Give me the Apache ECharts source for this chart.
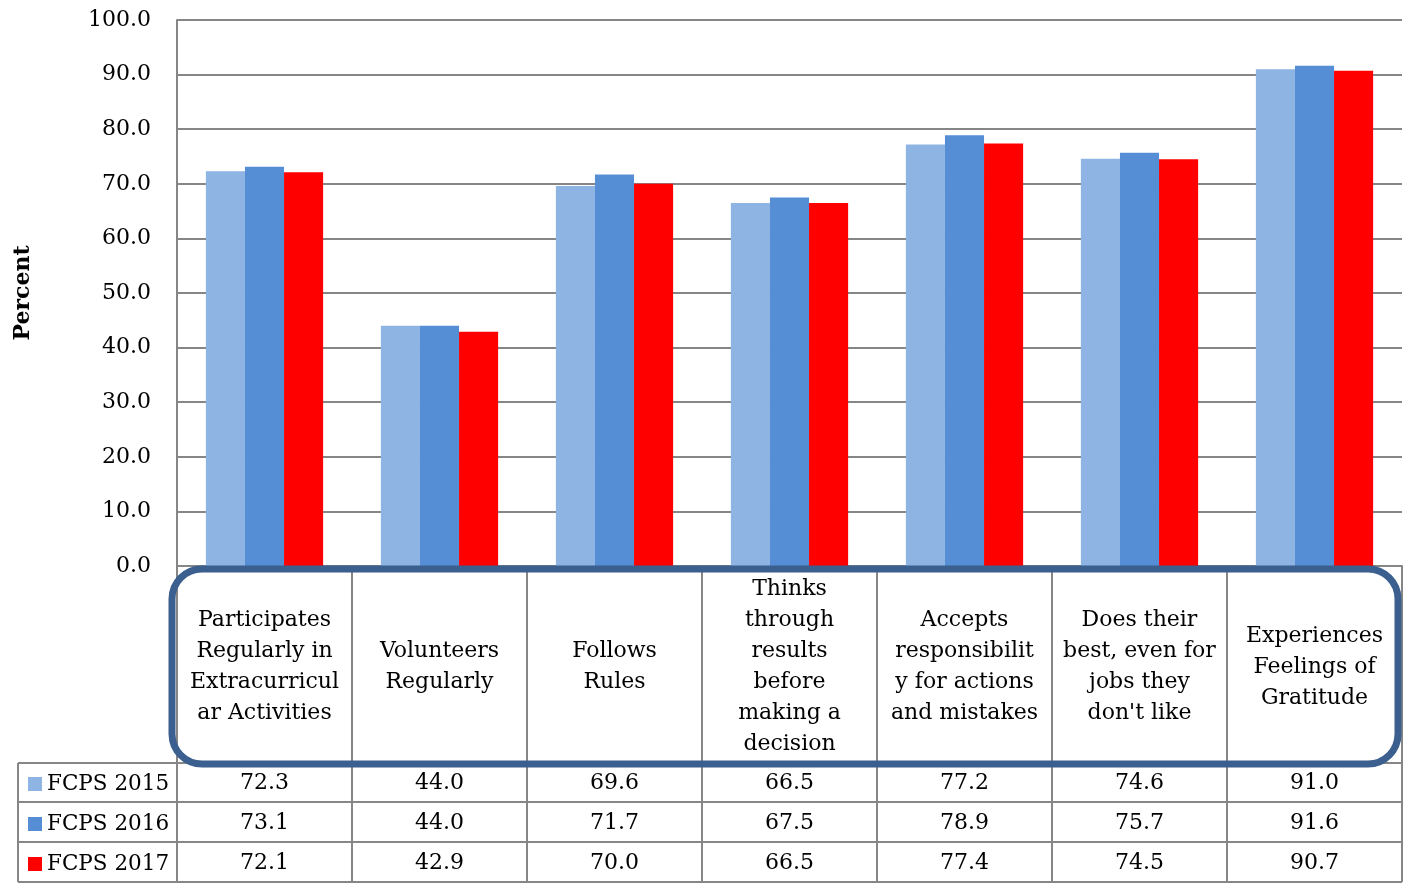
<!DOCTYPE html>
<html><head><meta charset="utf-8">
<script src="https://cdn.jsdelivr.net/npm/echarts@6/dist/echarts.min.js"></script>
<style>html,body{margin:0;padding:0;background:#fff}#c{width:1403px;height:887px}</style>
</head><body><div id="c"></div>
<script>
const categories = [
  "Participates\nRegularly in\nExtracurricul\nar Activities",
  "Volunteers\nRegularly",
  "Follows\nRules",
  "Thinks\nthrough\nresults\nbefore\nmaking a\ndecision",
  "Accepts\nresponsibilit\ny for actions\nand mistakes",
  "Does their\nbest, even for\njobs they\ndon't like",
  "Experiences\nFeelings of\nGratitude"
];
const seriesNames = ["FCPS 2015", "FCPS 2016", "FCPS 2017"];
const fcps2015 = [72.3, 44.0, 69.6, 66.5, 77.2, 74.6, 91.0];
const fcps2016 = [73.1, 44.0, 71.7, 67.5, 78.9, 75.7, 91.6];
const fcps2017 = [72.1, 42.9, 70.0, 66.5, 77.4, 74.5, 90.7];
const yTicks = [0, 10, 20, 30, 40, 50, 60, 70, 80, 90, 100];

const colors = ["#8EB4E3", "#558ED5", "#FF0000"];
const FONT = "DejaVu Serif";
const gridL = 177, gridR = 1402, gridT = 20, gridB = 566;
const catW = (gridR - gridL) / categories.length;
const gray = "#868686";

const graphics = [];
[763, 802, 842, 882].forEach(y => {
  graphics.push({type: 'line', shape: {x1: 18, y1: y, x2: gridR, y2: y}, style: {stroke: gray, lineWidth: 2}, z: 5});
});
graphics.push({type: 'line', shape: {x1: 18, y1: 763, x2: 18, y2: 882}, style: {stroke: gray, lineWidth: 2}, z: 5});
for (let i = 0; i <= categories.length; i++) {
  const x = gridL + i * catW;
  graphics.push({type: 'line', shape: {x1: x, y1: gridB, x2: x, y2: 882}, style: {stroke: gray, lineWidth: 2}, z: 5});
}
graphics.push({type: 'rect', shape: {x: 172, y: 569, width: 1226, height: 195, r: 30},
  style: {fill: 'none', stroke: '#3B5F8E', lineWidth: 7}, z: 10});

const valueAxes = [fcps2015, fcps2016, fcps2017].map((arr, i) => ({
  type: 'category', gridIndex: 0, position: 'bottom', offset: 217 + i * 40,
  data: arr.map(v => v.toFixed(1)),
  axisLine: {show: false}, axisTick: {show: false},
  axisLabel: {interval: 0, margin: 0, verticalAlign: 'middle', fontFamily: FONT, fontSize: 22, color: '#000'}
}));

const chart = echarts.init(document.getElementById('c'), null, {renderer: 'canvas'});
chart.setOption({
  animation: false,
  grid: {left: gridL, right: 1403 - gridR, top: gridT, bottom: 887 - gridB},
  legend: {
    data: seriesNames, orient: 'vertical', left: 23, top: 767,
    icon: 'rect', itemWidth: 14, itemHeight: 14, itemGap: 16,
    textStyle: {fontFamily: FONT, fontSize: 21.5, color: '#000', lineHeight: 24, padding: [0, 0, 0, 0]}
  },
  xAxis: [{
    type: 'category', data: categories,
    axisLine: {show: true, lineStyle: {color: gray, width: 2}},
    axisTick: {show: false},
    axisLabel: {interval: 0, margin: 101, verticalAlign: 'middle', lineHeight: 31, fontFamily: FONT, fontSize: 22, color: '#000', align: 'center'}
  }].concat(valueAxes),
  yAxis: {
    type: 'value', min: yTicks[0], max: yTicks[yTicks.length - 1], interval: 10,
    name: 'Percent', nameLocation: 'middle', nameGap: 143, nameRotate: 90,
    nameTextStyle: {fontFamily: FONT, fontSize: 22, fontWeight: 'bold', color: '#000'},
    axisLine: {show: true, lineStyle: {color: gray, width: 2}},
    axisTick: {show: false},
    splitLine: {lineStyle: {color: gray, width: 2}},
    axisLabel: {margin: 26, fontFamily: FONT, fontSize: 22, color: '#000', formatter: v => v.toFixed(1)}
  },
  series: [fcps2015, fcps2016, fcps2017].map((d, i) => ({
    name: seriesNames[i], type: 'bar', data: d, xAxisIndex: 0,
    barGap: '0%', barCategoryGap: '33%',
    itemStyle: {color: colors[i]}
  })),
  graphic: graphics
});
</script></body></html>
